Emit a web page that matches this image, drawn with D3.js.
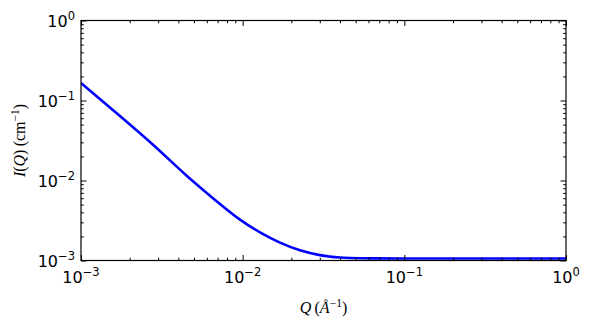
<!DOCTYPE html>
<html>
<head>
<meta charset="utf-8">
<script src="https://cdn.jsdelivr.net/npm/d3@7"></script>
<style>
  html, body { margin: 0; padding: 0; background: #fff; }
  svg { display: block; }
</style>
</head>
<body>
<svg id="chart" width="591" height="330"></svg>
<script>
// Data
const qValues = [0.001, 0.001742, 0.002801, 0.004505, 0.005848, 0.007243, 0.009627, 0.01280, 0.01702, 0.02263, 0.03008, 0.03999, 0.05317, 0.0940, 0.3, 1.0];
const iValues = [0.1655, 0.0640, 0.0278, 0.01148, 0.007288, 0.005082, 0.003245, 0.002245, 0.001675, 0.001341, 0.001168, 0.001090, 0.001065, 0.00106, 0.00106, 0.00106];
const xTickExponents = [-3, -2, -1, 0];
const yTickExponents = [-3, -2, -1, 0];
const xLabel = "Q";
const yLabel = "I(Q)";

const svg = d3.select("#chart");
const W = 591, H = 330;
const margin = {left: 81, right: 25, top: 20.5, bottom: 69.5};
const x0 = margin.left, x1 = W - margin.right, y0 = margin.top, y1 = H - margin.bottom;

const x = d3.scaleLog().domain([1e-3, 1]).range([x0, x1]);
const y = d3.scaleLog().domain([1e-3, 1]).range([y1, y0]);

svg.append("rect").attr("width", W).attr("height", H).attr("fill", "#fff");

const data = qValues.map((q, i) => ({q, v: iValues[i]}));

svg.append("clipPath").attr("id", "clip").append("rect")
  .attr("x", x0).attr("y", y0).attr("width", x1 - x0).attr("height", y1 - y0);

svg.append("path")
  .datum(data)
  .attr("clip-path", "url(#clip)")
  .attr("fill", "none")
  .attr("stroke", "#0000ff")
  .attr("stroke-width", 2.6)
  .attr("stroke-linejoin", "round")
  .attr("d", d3.line().x(d => x(d.q)).y(d => y(d.v)).curve(d3.curveMonotoneX));

// Ticks (major + minor), inward on all four sides
function minorTicks(exps) {
  const out = [];
  for (let i = 0; i < exps.length - 1; i++) {
    for (let k = 2; k <= 9; k++) out.push(k * Math.pow(10, exps[i]));
  }
  return out;
}
const xMajor = xTickExponents.map(e => Math.pow(10, e));
const yMajor = yTickExponents.map(e => Math.pow(10, e));
const xMinor = minorTicks(xTickExponents);
const yMinor = minorTicks(yTickExponents);
const MAJ = 5.5, MIN = 2.8;

function addAxis(axisGen, transform) {
  const g = svg.append("g").attr("transform", transform).call(axisGen);
  g.select(".domain").remove();
  g.selectAll("line").attr("stroke", "#000").attr("stroke-width", 1);
  g.selectAll("text").remove();
  return g;
}
addAxis(d3.axisBottom(x).tickValues(xMajor).tickSizeInner(-MAJ).tickSizeOuter(0).tickFormat(""), `translate(0,${y1})`);
addAxis(d3.axisBottom(x).tickValues(xMinor).tickSizeInner(-MIN).tickSizeOuter(0).tickFormat(""), `translate(0,${y1})`);
addAxis(d3.axisTop(x).tickValues(xMajor).tickSizeInner(-MAJ).tickSizeOuter(0).tickFormat(""), `translate(0,${y0})`);
addAxis(d3.axisTop(x).tickValues(xMinor).tickSizeInner(-MIN).tickSizeOuter(0).tickFormat(""), `translate(0,${y0})`);
addAxis(d3.axisLeft(y).tickValues(yMajor).tickSizeInner(-MAJ).tickSizeOuter(0).tickFormat(""), `translate(${x0},0)`);
addAxis(d3.axisLeft(y).tickValues(yMinor).tickSizeInner(-MIN).tickSizeOuter(0).tickFormat(""), `translate(${x0},0)`);
addAxis(d3.axisRight(y).tickValues(yMajor).tickSizeInner(-MAJ).tickSizeOuter(0).tickFormat(""), `translate(${x1},0)`);
addAxis(d3.axisRight(y).tickValues(yMinor).tickSizeInner(-MIN).tickSizeOuter(0).tickFormat(""), `translate(${x1},0)`);

// Frame
svg.append("rect")
  .attr("x", x0).attr("y", y0).attr("width", x1 - x0).attr("height", y1 - y0)
  .attr("fill", "none").attr("stroke", "#000").attr("stroke-width", 1.2);

// Tick labels
const tickFont = "'DejaVu Sans', sans-serif";
function expText(e) { return (e < 0 ? "\u2212" : "") + Math.abs(e); }

xTickExponents.forEach(e => {
  const t = svg.append("text")
    .attr("x", x(Math.pow(10, e)))
    .attr("y", 283)
    .attr("text-anchor", "middle")
    .attr("font-family", tickFont)
    .attr("font-size", 16)
    .attr("fill", "#000");
  t.append("tspan").text("10");
  t.append("tspan").attr("dy", -7).attr("font-size", 11.5).text(expText(e));
});

yTickExponents.forEach(e => {
  const t = svg.append("text")
    .attr("x", 75)
    .attr("y", y(Math.pow(10, e)) + 6)
    .attr("text-anchor", "end")
    .attr("font-family", tickFont)
    .attr("font-size", 16)
    .attr("fill", "#000");
  t.append("tspan").text("10");
  t.append("tspan").attr("dy", -7).attr("font-size", 11.5).text(expText(e));
});

// Axis labels
const labelFont = "'Liberation Serif', 'DejaVu Serif', serif";
const xl = svg.append("text")
  .attr("x", (x0 + x1) / 2)
  .attr("y", 313)
  .attr("text-anchor", "middle")
  .attr("font-family", labelFont)
  .attr("font-size", 16)
  .attr("fill", "#000");
xl.append("tspan").attr("font-style", "italic").text(xLabel);
xl.append("tspan").text("\u2009(");
xl.append("tspan").attr("font-style", "italic").text("\u00C5");
xl.append("tspan").attr("dy", -6).attr("font-size", 11.5).text("\u2212" + "1");
xl.append("tspan").attr("dy", 6).text(")");

const yl = svg.append("text")
  .attr("transform", `translate(25,${(y0 + y1) / 2}) rotate(-90)`)
  .attr("text-anchor", "middle")
  .attr("font-family", labelFont)
  .attr("font-size", 16)
  .attr("fill", "#000");
yl.append("tspan").attr("font-style", "italic").text("I");
yl.append("tspan").text("(");
yl.append("tspan").attr("font-style", "italic").text("Q");
yl.append("tspan").text(")\u2009(cm");
yl.append("tspan").attr("dy", -6).attr("font-size", 11.5).text("\u2212" + "1");
yl.append("tspan").attr("dy", 6).text(")");
</script>
</body>
</html>
